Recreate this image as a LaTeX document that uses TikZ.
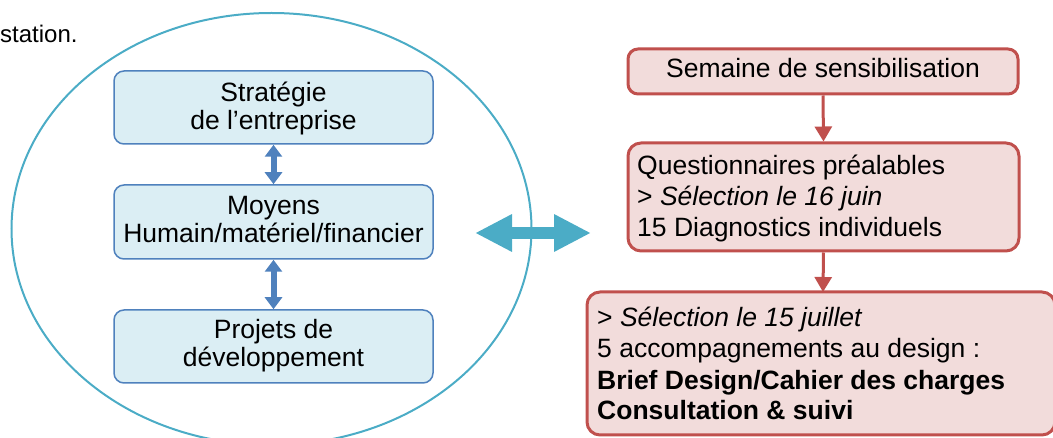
\documentclass[tikz,border=0pt]{standalone}
\usepackage{fontspec}
\setmainfont{Liberation Sans}
\usetikzlibrary{arrows.meta,shapes.geometric}
\definecolor{lblue}{HTML}{DBEEF4}
\definecolor{bblue}{HTML}{4F81BD}
\definecolor{teal}{HTML}{4BACC6}
\definecolor{rfill}{HTML}{F2DCDB}
\definecolor{rred}{HTML}{C0504D}
\tikzset{
  lbox/.style={draw=bblue, fill=lblue, line width=1.5pt, rounded corners=10pt, minimum width=319pt, inner sep=0pt},
  rbox/.style={draw=rred, fill=rfill, line width=3pt, rounded corners=13pt, inner sep=0pt},
  btxt/.style={font=\fontsize{26.5}{31}\selectfont, inner sep=0pt, anchor=base},
  ltxt/.style={btxt, anchor=base west},
  barrow/.style={bblue, line width=6pt, {Triangle[width=17pt,length=12pt]}-{Triangle[width=17pt,length=12pt]}},
  rarrow/.style={rred, line width=3pt, -{Triangle[width=17pt,length=15pt]}},
  tarrow/.style={teal, line width=12pt, {Triangle[width=35pt,length=37pt]}-{Triangle[width=35pt,length=37pt]}},
}
\begin{document}
\begin{tikzpicture}[x=1pt,y=-1pt]
\useasboundingbox (0,0) rectangle (1053,438);
% top text fragment
\node[font=\fontsize{24}{28}\selectfont, inner sep=0pt, anchor=base west] (sta) at (0,43) {station.};
% big teal arrow
\coordinate (ta) at (475,233);
\coordinate (tb) at (591,233);
\draw[tarrow] (ta) -- (tb);
% ellipse
\node[draw=teal, line width=2pt, ellipse, minimum width=520pt, minimum height=432pt, inner sep=0pt] (ell) at (271.5,229) {};
% left boxes
\node[lbox, minimum height=73pt] (s1) at (273.5,107.5) {};
\node[lbox, minimum height=74pt] (s2) at (273.5,222) {};
\node[lbox, minimum height=73pt] (s3) at (273.5,346.5) {};
\node[btxt] (s1a) at (273.5,101.5) {Stratégie};
\node[btxt] (s1b) at (273.5,129.5) {de l’entreprise};
\node[btxt] (s2a) at (273.5,215) {Moyens};
\node[btxt] (s2b) at (273.5,243) {Humain/matériel/financier};
\node[btxt] (s3a) at (273.5,339) {Projets de};
\node[btxt] (s3b) at (273.5,367) {développement};
\draw[barrow] (s1.south) -- (s2.north);
\draw[barrow] (s2.south) -- (s3.north);
% right boxes
\node[rbox, rounded corners=10pt, minimum width=390pt, minimum height=45pt] (r1) at (823,71.5) {};
\node[btxt] (r1a) at (823,78) {Semaine de sensibilisation};
\node[rbox, minimum width=391pt, minimum height=108pt] (r2) at (823.5,197) {};
\node[ltxt] (r2a) at (637,175) {Questionnaires préalables};
\node[ltxt] (r2b) at (637,206) {> \textit{Sélection le 16 juin}};
\node[ltxt] (r2c) at (637,237) {15 Diagnostics individuels};
\node[rbox, minimum width=468pt, minimum height=143pt] (r3) at (821,363.5) {};
\node[ltxt] (r3a) at (597,327) {> \textit{Sélection le 15 juillet}};
\node[ltxt] (r3b) at (597,358) {5 accompagnements au design :};
\node[ltxt] (r3c) at (597,390) {\textbf{Brief Design/Cahier des charges}};
\node[ltxt] (r3d) at (597,420) {\textbf{Consultation \& suivi}};
\coordinate (r3top) at (823,292);
\draw[rarrow] (r1.south) -- (r2.north);
\draw[rarrow] (r2.south) -- (r3top);
\end{tikzpicture}
\end{document}
